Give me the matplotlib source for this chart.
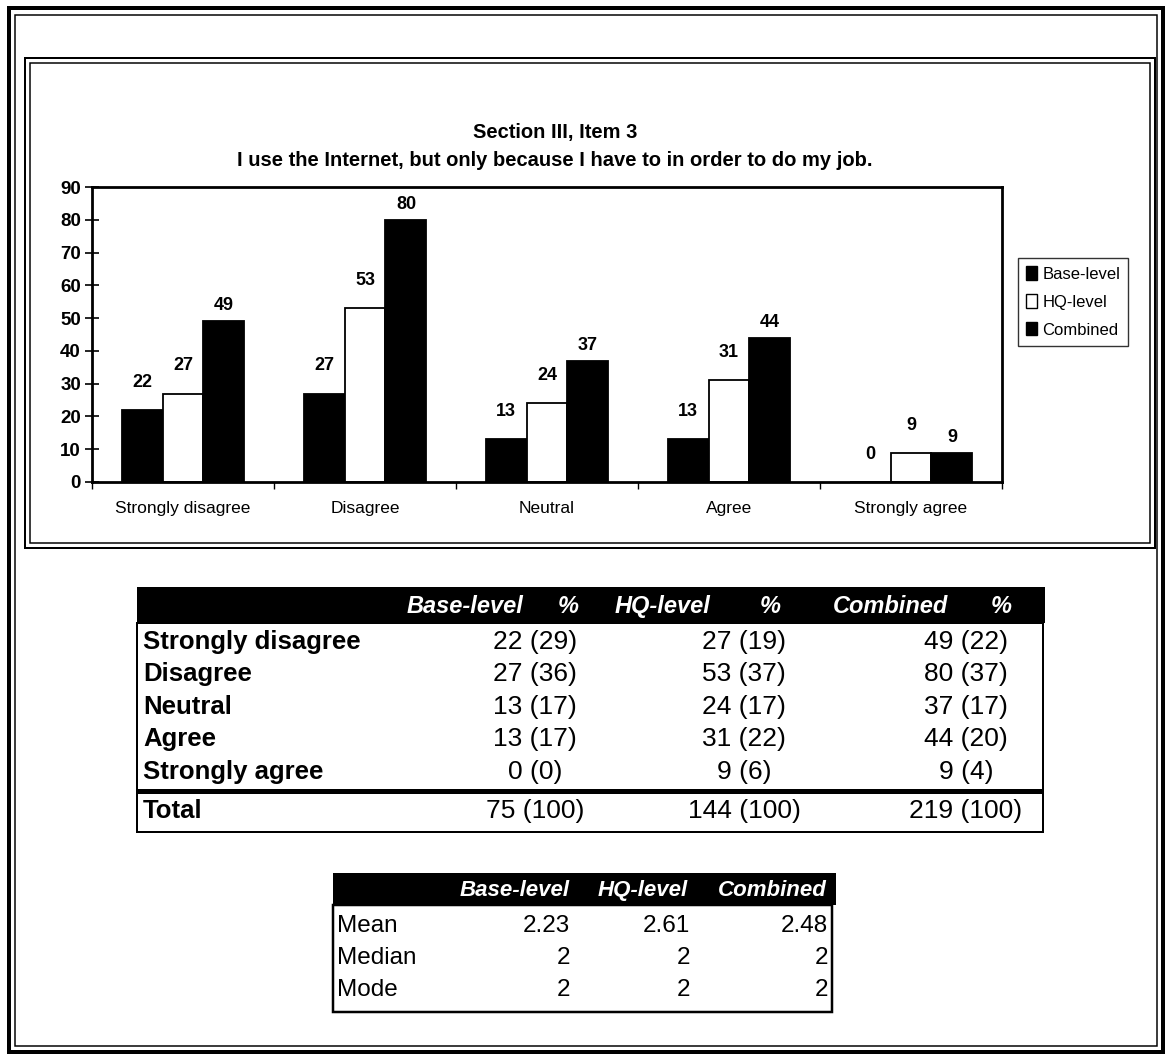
import matplotlib
matplotlib.use('Agg')
import matplotlib.pyplot as plt
from matplotlib.patches import Rectangle, Patch
import numpy as np

plt.rcParams['font.family'] = ['Liberation Sans', 'DejaVu Sans']

# ---------------- data ----------------
title_line1 = 'Section III, Item 3'
title_line2 = 'I use the Internet, but only because I have to in order to do my job.'
categories = ['Strongly disagree', 'Disagree', 'Neutral', 'Agree', 'Strongly agree']
series_names = ['Base-level', 'HQ-level', 'Combined']
base_counts = [22, 27, 13, 13, 0]
hq_counts = [27, 53, 24, 31, 9]
combined_counts = [49, 80, 37, 44, 9]
base_pct = [29, 36, 17, 17, 0]
hq_pct = [19, 37, 17, 22, 6]
combined_pct = [22, 37, 17, 20, 4]
total_counts = [75, 144, 219]
total_pct = [100, 100, 100]
y_ticks = [0, 10, 20, 30, 40, 50, 60, 70, 80, 90]
stat_names = ['Mean', 'Median', 'Mode']
stat_base = [2.23, 2, 2]
stat_hq = [2.61, 2, 2]
stat_combined = [2.48, 2, 2]

# ---------------- figure ----------------
W, H = 1169, 1059
fig = plt.figure(figsize=(W / 100, H / 100), dpi=100)
fig.patch.set_facecolor('white')
PT = 0.72  # points per pixel at 100 dpi


def fy(y):
    return 1 - y / H


def frame(x0, y0, x1, y1, lw_px, face='none'):
    r = Rectangle((x0 / W, fy(y1)), (x1 - x0) / W, (y1 - y0) / H,
                  transform=fig.transFigure, facecolor=face,
                  edgecolor='black', lw=lw_px * PT)
    fig.add_artist(r)


def hline(x0, x1, y, lw_px):
    fig.add_artist(plt.Line2D([x0 / W, x1 / W], [fy(y), fy(y)],
                              transform=fig.transFigure, color='black',
                              lw=lw_px * PT, solid_capstyle='butt'))


# outer double frame
frame(9, 8, 1163, 1052, 4)
frame(15, 15, 1157, 1046, 1.5)
# chart double frame
frame(25, 58, 1155, 548, 2)
frame(30, 63, 1150, 543, 1.5)

# titles
fig.text(555 / W, fy(138), title_line1, ha='center', va='baseline',
         fontsize=14.5, fontweight='bold')
fig.text(555 / W, fy(166), title_line2, ha='center', va='baseline',
         fontsize=14.5, fontweight='bold')

# ---------------- bar chart ----------------
ax = fig.add_axes([92 / W, fy(482), (1002 - 92) / W, (482 - 187) / H])
x = np.arange(len(categories))
w = 0.225
series = [base_counts, hq_counts, combined_counts]
colors = ['black', 'white', 'black']
offsets = [-w, 0, w]
gaps = [19, 19, 7]
handles = []
for vals, col, off, gap, name in zip(series, colors, offsets, gaps, series_names):
    bars = ax.bar(x + off, vals, w, color=col, edgecolor='black', lw=1.3, label=name)
    for b, v in zip(bars, vals):
        ax.annotate(str(v), (b.get_x() + b.get_width() / 2, v),
                    xytext=(0, gap), textcoords='offset pixels',
                    ha='center', va='bottom', fontsize=13, fontweight='bold')
    handles.append(Patch(facecolor=col, edgecolor='black', lw=1, label=name))

ax.set_xlim(-0.5, len(categories) - 0.5)
ax.set_ylim(0, 90)
ax.set_yticks(y_ticks)
ax.set_yticklabels([str(t) for t in y_ticks], fontsize=13.5, fontweight='bold')
ax.tick_params(axis='y', direction='inout', length=10, width=1.2, pad=3)
ax.set_xticks(x)
ax.set_xticklabels(categories, fontsize=12.5)
ax.tick_params(axis='x', which='major', length=0, pad=14)
ax.set_xticks(np.arange(-0.5, len(categories), 1), minor=True)
ax.tick_params(axis='x', which='minor', direction='out', length=5, width=1)
for s in ax.spines.values():
    s.set_linewidth(2)
    s.set_color('black')

leg = ax.legend(handles=handles, loc='upper left',
                bbox_to_anchor=(1018 / W, fy(258)), bbox_transform=fig.transFigure,
                frameon=True, fancybox=False, edgecolor='black', fontsize=12,
                handlelength=0.65, handleheight=0.85, handletextpad=0.3,
                labelspacing=0.75, borderpad=0.5, borderaxespad=0)
leg.get_frame().set_linewidth(1)

# ---------------- frequency table ----------------
tx0, tx1 = 137, 1043
frame(tx0, 587, 1045, 623, 0, face='black')
frame(tx0, 623, tx1, 791, 2)
hline(tx0, tx1, 791, 4)
frame(tx0, 793, tx1, 832, 2)

hdr_kw = dict(color='white', fontsize=17, fontweight='bold', fontstyle='italic',
              va='baseline')
header_labels = [series_names[0], '%', series_names[1], '%', series_names[2], '%']
header_x = [523, 568, 710, 770, 948, 1001]
header_ha = ['right', 'center', 'right', 'center', 'right', 'center']
for lbl, hx, ha in zip(header_labels, header_x, header_ha):
    fig.text(hx / W, fy(613), lbl, ha=ha, **hdr_kw)

row_base = [649, 681, 714, 746, 779]
col_x = [535, 744, 966]
counts = [base_counts, hq_counts, combined_counts]
pcts = [base_pct, hq_pct, combined_pct]
for i, cat in enumerate(categories):
    fig.text(143 / W, fy(row_base[i]), cat, ha='left', va='baseline',
             fontsize=18.5, fontweight='bold')
    for cx, cnt, pc in zip(col_x, counts, pcts):
        fig.text(cx / W, fy(row_base[i]), f'{cnt[i]} ({pc[i]})', ha='center',
                 va='baseline', fontsize=19)
fig.text(143 / W, fy(818), 'Total', ha='left', va='baseline', fontsize=18.5,
         fontweight='bold')
for cx, tc, tp in zip(col_x, total_counts, total_pct):
    fig.text(cx / W, fy(818), f'{tc} ({tp})', ha='center', va='baseline', fontsize=19)

# ---------------- statistics table ----------------
frame(333, 873, 836, 905, 0, face='black')
frame(333, 905, 832, 1012, 2.5)
stat_hdr_x = [570, 688, 827]
for lbl, hx in zip(series_names, stat_hdr_x):
    fig.text(hx / W, fy(896), lbl, ha='right', **dict(hdr_kw, fontsize=16))
stat_base_y = [932, 964, 996]
stat_cols = [stat_base, stat_hq, stat_combined]
stat_val_x = [570, 690, 828]
for i, nm in enumerate(stat_names):
    fig.text(337 / W, fy(stat_base_y[i]), nm, ha='left', va='baseline', fontsize=17.5)
    for vx, col in zip(stat_val_x, stat_cols):
        v = col[i]
        txt = f'{v:.2f}' if i == 0 else f'{int(v)}'
        fig.text(vx / W, fy(stat_base_y[i]), txt, ha='right', va='baseline',
                 fontsize=17.5)

fig.savefig('out.png', dpi=100, facecolor='white')
